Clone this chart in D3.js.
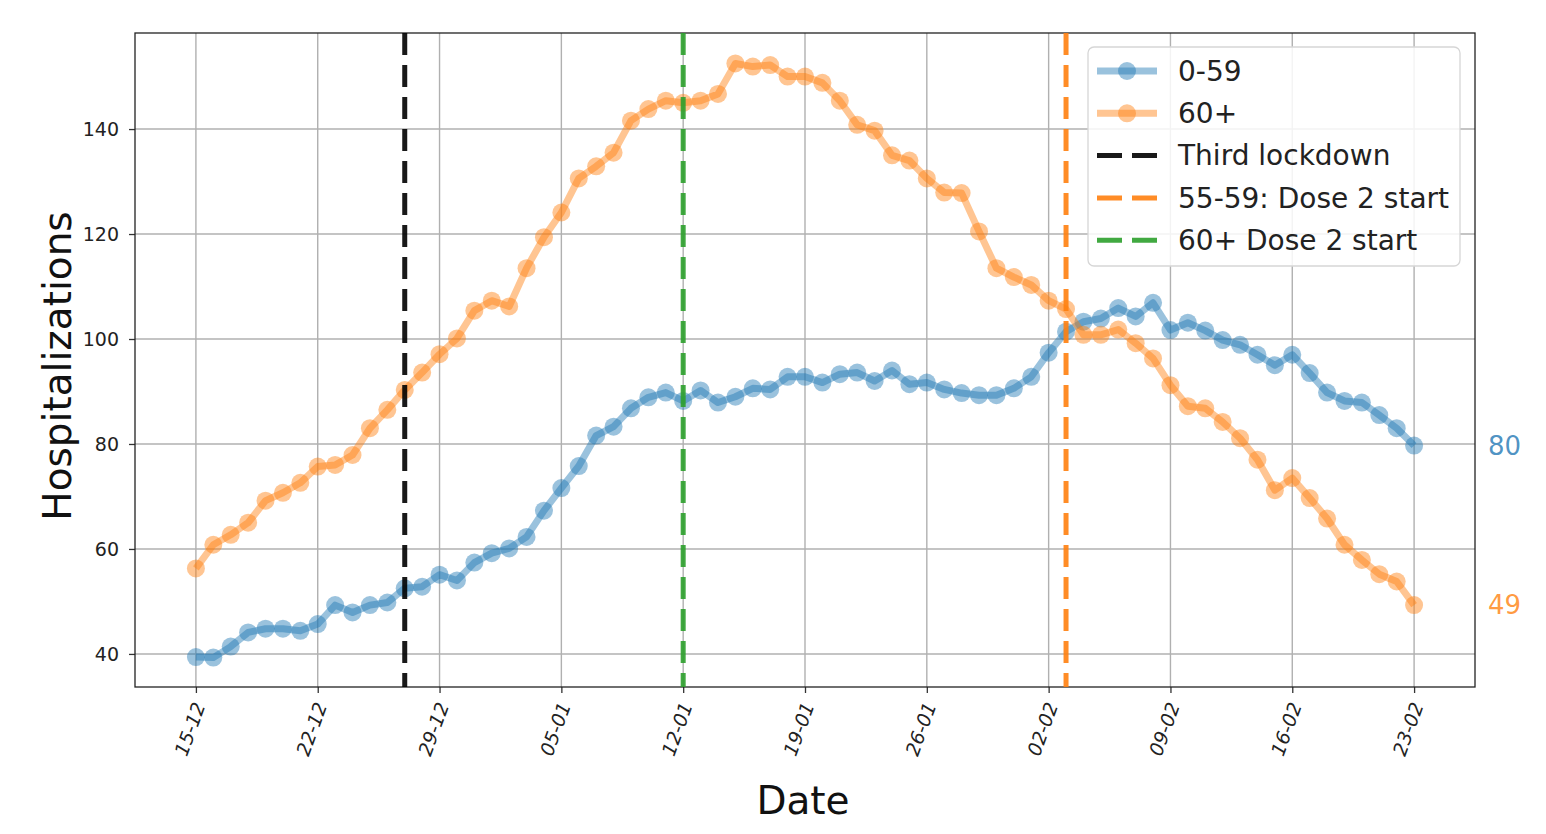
<!DOCTYPE html>
<html>
<head>
<meta charset="utf-8">
<script src="https://cdn.jsdelivr.net/npm/d3@7"></script>
<style>
  body { margin: 0; background: #fff; }
  svg { font-family: "DejaVu Sans", sans-serif; }
</style>
</head>
<body>
<div id="vis"></div>
<script>
var margin = {top: 33, right: 71, bottom: 147, left: 135},
    width = 1546 - margin.left - margin.right,
    height = 834 - margin.top - margin.bottom;

// daily dates, 15 Dec 2020 .. 23 Feb 2021
var dates = d3.timeDay.range(new Date(2020, 11, 15), new Date(2021, 1, 24));

var young = [39.4, 39.3, 41.4, 44.1, 44.8, 44.8, 44.4, 45.7, 49.3, 47.9,
             49.3, 49.8, 52.5, 52.8, 55.1, 54.0, 57.4, 59.2, 60.1, 62.3,
             67.3, 71.6, 75.8, 81.6, 83.3, 86.8, 88.9, 89.8, 88.2, 90.2,
             87.9, 89.0, 90.6, 90.4, 92.8, 92.8, 91.7, 93.3, 93.6, 92.0,
             94.0, 91.4, 91.7, 90.4, 89.7, 89.3, 89.3, 90.6, 92.8, 97.4,
             101.4, 103.3, 103.9, 105.9, 104.3, 106.9, 101.7, 103.1, 101.6, 99.8,
             98.9, 97.0, 95.0, 97.0, 93.5, 89.8, 88.2, 87.9, 85.5, 83.0,
             79.7]

var old = [56.3, 60.8, 62.7, 65.0, 69.2, 70.7, 72.6, 75.7, 76.0, 77.9,
           83.0, 86.5, 90.3, 93.6, 97.1, 100.1, 105.4, 107.3, 106.2, 113.5,
           119.4, 124.1, 130.6, 132.9, 135.5, 141.6, 143.8, 145.4, 145.0, 145.4,
           146.7, 152.5, 151.9, 152.2, 150.0, 150.0, 148.8, 145.4, 140.8, 139.7,
           135.0, 134.0, 130.6, 127.9, 127.8, 120.5, 113.5, 111.8, 110.3, 107.3,
           105.7, 100.8, 100.8, 101.8, 99.2, 96.3, 91.2, 87.2, 86.8, 84.2,
           81.1, 77.0, 71.2, 73.5, 69.7, 65.8, 60.8, 57.9, 55.2, 53.8,
           49.3]

var seriesNames = ["0-59", "60+"]
var seriesColors = ["#1f77b4", "#ff7f0e"]
var endLabels = ["80", "49"]

var events = [
  {label: "Third lockdown", date: new Date(2020, 11, 27), color: "#000000"},
  {label: "55-59: Dose 2 start", date: new Date(2021, 1, 3), color: "#ff7f0e"},
  {label: "60+ Dose 2 start", date: new Date(2021, 0, 12), color: "#2ca02c"}
]

var yTicks = [40, 60, 80, 100, 120, 140]
var xTicks = d3.timeDay.range(new Date(2020, 11, 15), new Date(2021, 1, 24), 7)

var svg = d3.select("#vis").append("svg")
    .attr("width", width + margin.left + margin.right)
    .attr("height", height + margin.top + margin.bottom)
  .append("g")
    .attr("transform", "translate(" + margin.left + "," + margin.top + ")");

var x = d3.scaleTime()
    .domain([d3.timeHour.offset(dates[0], -84), d3.timeHour.offset(dates[dates.length - 1], 84)])
    .range([0, width])

var y = d3.scaleLinear()
    .domain([33.7, 158.3])
    .range([height, 0])

// grid
svg.append("g")
    .selectAll("line.gx")
    .data(xTicks)
    .enter().append("line")
    .attr("x1", function(d) { return x(d) })
    .attr("x2", function(d) { return x(d) })
    .attr("y1", 0).attr("y2", height)
    .attr("stroke", "#b0b0b0").attr("stroke-width", 1.4)

svg.append("g")
    .selectAll("line.gy")
    .data(yTicks)
    .enter().append("line")
    .attr("y1", function(d) { return y(d) })
    .attr("y2", function(d) { return y(d) })
    .attr("x1", 0).attr("x2", width)
    .attr("stroke", "#b0b0b0").attr("stroke-width", 1.4)

// axes
var xAxis = svg.append("g")
    .attr("transform", "translate(0," + height + ")")
    .call(d3.axisBottom(x).tickValues(xTicks).tickFormat(d3.timeFormat("%d-%m")).tickSize(6).tickPadding(10))
xAxis.attr("font-size", 19).attr("font-family", null)
xAxis.select(".domain").remove()
xAxis.selectAll(".tick line").attr("stroke", "#333").attr("stroke-width", 1.3)
xAxis.selectAll(".tick text")
    .style("font-style", "italic")
    .attr("fill", "#222")
    .attr("text-anchor", "end")
    .attr("dy", "0.35em")
    .attr("transform", "translate(3,16) rotate(-70)")
    .attr("y", 0).attr("x", 0)

var yAxis = svg.append("g")
    .call(d3.axisLeft(y).tickValues(yTicks).tickSize(6).tickPadding(10))
yAxis.attr("font-size", 19).attr("font-family", null)
yAxis.select(".domain").remove()
yAxis.selectAll(".tick line").attr("stroke", "#333").attr("stroke-width", 1.3)
yAxis.selectAll(".tick text").attr("fill", "#222")

// frame
svg.append("rect")
    .attr("width", width).attr("height", height)
    .attr("fill", "none").attr("stroke", "#222").attr("stroke-width", 1.3)

// series
var line = d3.line()
    .x(function(d, i) { return x(dates[i]) })
    .y(function(d) { return y(d) })

;[young, old].forEach(function(values, k) {
  svg.append("path")
      .datum(values)
      .attr("d", line)
      .attr("fill", "none")
      .attr("stroke", seriesColors[k])
      .attr("stroke-opacity", 0.45)
      .attr("stroke-width", 7)
      .attr("stroke-linejoin", "round")

  svg.append("g")
      .selectAll("circle")
      .data(values)
      .enter().append("circle")
      .attr("cx", function(d, i) { return x(dates[i]) })
      .attr("cy", function(d) { return y(d) })
      .attr("r", 9)
      .attr("fill", seriesColors[k])
      .attr("fill-opacity", 0.45)

  svg.append("text")
      .attr("x", x(dates[dates.length - 1]) + 74)
      .attr("y", y(values[values.length - 1]))
      .attr("dy", "0.35em")
      .attr("fill", seriesColors[k])
      .attr("fill-opacity", 0.8)
      .style("font-size", "26px")
      .text(endLabels[k])
})

// event lines
svg.append("g")
    .selectAll("line")
    .data(events)
    .enter().append("line")
    .attr("x1", function(d) { return x(d.date) })
    .attr("x2", function(d) { return x(d.date) })
    .attr("y1", 0).attr("y2", height)
    .attr("stroke", function(d) { return d.color })
    .attr("stroke-opacity", 0.9)
    .attr("stroke-width", 5)
    .attr("stroke-dasharray", "22,10")

// legend
var legend = svg.append("g").attr("transform", "translate(" + (1088 - margin.left) + "," + (47 - margin.top) + ")")
legend.append("rect")
    .attr("width", 372).attr("height", 219).attr("rx", 6)
    .attr("fill", "#fff").attr("fill-opacity", 0.85)
    .attr("stroke", "#d6d6d6").attr("stroke-width", 1.3)

var items = seriesNames.map(function(n, k) { return {label: n, color: seriesColors[k], series: true} })
    .concat(events.map(function(e) { return {label: e.label, color: e.color, series: false} }))

var row = legend.selectAll("g.item")
    .data(items)
    .enter().append("g")
    .attr("transform", function(d, i) { return "translate(0," + (24 + i * 42.3) + ")" })

row.append("line")
    .attr("x1", 9).attr("x2", 69)
    .attr("stroke", function(d) { return d.color })
    .attr("stroke-opacity", function(d) { return d.series ? 0.45 : 0.9 })
    .attr("stroke-width", function(d) { return d.series ? 7 : 5 })
    .attr("stroke-dasharray", function(d) { return d.series ? null : "25,10" })

row.filter(function(d) { return d.series }).append("circle")
    .attr("cx", 39).attr("r", 9)
    .attr("fill", function(d) { return d.color })
    .attr("fill-opacity", 0.45)

row.append("text")
    .attr("x", 90)
    .attr("dy", "0.35em")
    .attr("fill", "#222")
    .style("font-size", "28px")
    .text(function(d) { return d.label })

// axis titles
svg.append("text")
    .attr("transform", "translate(" + (57 - margin.left) + "," + (366 - margin.top) + ") rotate(-90)")
    .attr("text-anchor", "middle")
    .attr("dy", "0.35em")
    .attr("fill", "#111")
    .style("font-size", "39px")
    .text("Hospitalizations")

svg.append("text")
    .attr("x", 803 - margin.left)
    .attr("y", 800 - margin.top)
    .attr("text-anchor", "middle")
    .attr("dy", "0.35em")
    .attr("fill", "#111")
    .style("font-size", "39px")
    .text("Date")
</script>
</body>
</html>
